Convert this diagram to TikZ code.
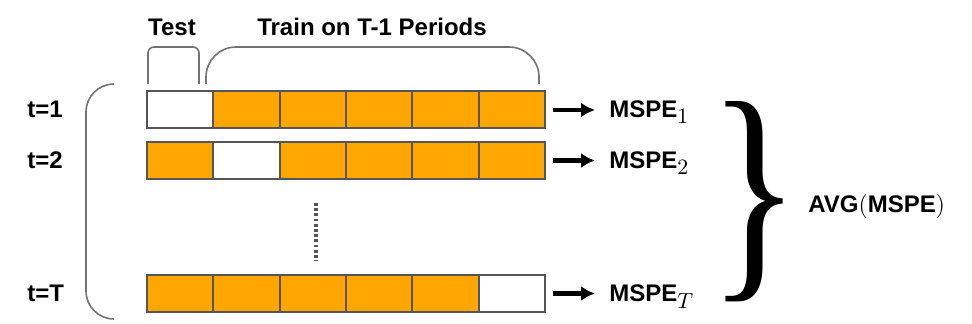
\documentclass[tikz,border=0pt]{standalone}
\usepackage{fontspec}
\setmainfont{Liberation Sans}
\newfontfamily\bracefont{Liberation Serif}
\usepackage{graphicx}
\usetikzlibrary{arrows.meta}
\definecolor{barorange}{RGB}{255,166,0}
\definecolor{edgegray}{RGB}{85,85,85}
\definecolor{bracegray}{RGB}{115,115,115}
\newcommand\subx[1]{$_{\mbox{\fontsize{10.5}{12}\selectfont$#1$}}$}

\begin{document}
\begin{tikzpicture}[x=0.5pt, y=-0.5pt,
    cell/.style={draw=edgegray, line width=1pt, minimum width=33.17pt,
      minimum height=18.5pt, inner sep=0pt},
    lbl/.style={font=\fontsize{12}{14}\selectfont\bfseries, inner sep=0pt},
    outarrow/.style={line width=2.4pt, -{Latex[length=7pt,width=7.5pt]}},
    curly/.style={draw=bracegray, line width=0.8pt, rounded corners=#1}]
  \useasboundingbox (0,0) rectangle (972,324);
  % cabecalhos
  \node[lbl, anchor=base] (test) at (172,36) {Test};
  \node[lbl, anchor=base] (train) at (372,36) {Train on T-1 Periods};
  % chaves abertas sob os cabecalhos
  \draw[curly=3pt] (148,84) -- (148,47) -- (199,47) -- (199,84);
  \draw[curly=15pt] (206,84) -- (206,47) -- (539,47) -- (539,84);
  % colchete da esquerda
  \draw[curly=14pt] (113,84) -- (86,84) -- (86,319) -- (113,319);
  % linhas de periodos
  \foreach \r/\yc/\w in {1/110/1, 2/160.5/2, T/293.5/6}{
    \node[lbl, anchor=base west] (t\r) at (27,\yc+8) {t=\r};
    \foreach \c in {1,...,6}{
      \ifnum\c=\w \def\cellfill{white}\else\def\cellfill{barorange}\fi
      \node[cell, fill=\cellfill] (r\r-\c) at (147+66.33*\c-33.17,\yc) {};
    }
    \node[lbl, anchor=base west] (m\r) at (609,\yc+8) {MSPE\subx{\r}};
    \draw[outarrow, shorten <=3.5pt, shorten >=7pt]
      (r\r-6.east) -- (r\r-6.east -| m\r.west);
  }
  % reticencias
  \draw[edgegray, line width=1.6pt, dash pattern=on 1.4pt off 1.2pt]
    (316,203) -- (316,261);
  % chave grande e media
  \node[inner sep=0pt] (brace) at (755,201.5)
    {\resizebox{46pt}{84pt}{\bracefont\}}};
  \node[lbl, anchor=base west] (avg) at (808,213)
    {AVG{\fontsize{13}{14}\selectfont$($}MSPE{\fontsize{13}{14}\selectfont$)$}};
\end{tikzpicture}
\end{document}
